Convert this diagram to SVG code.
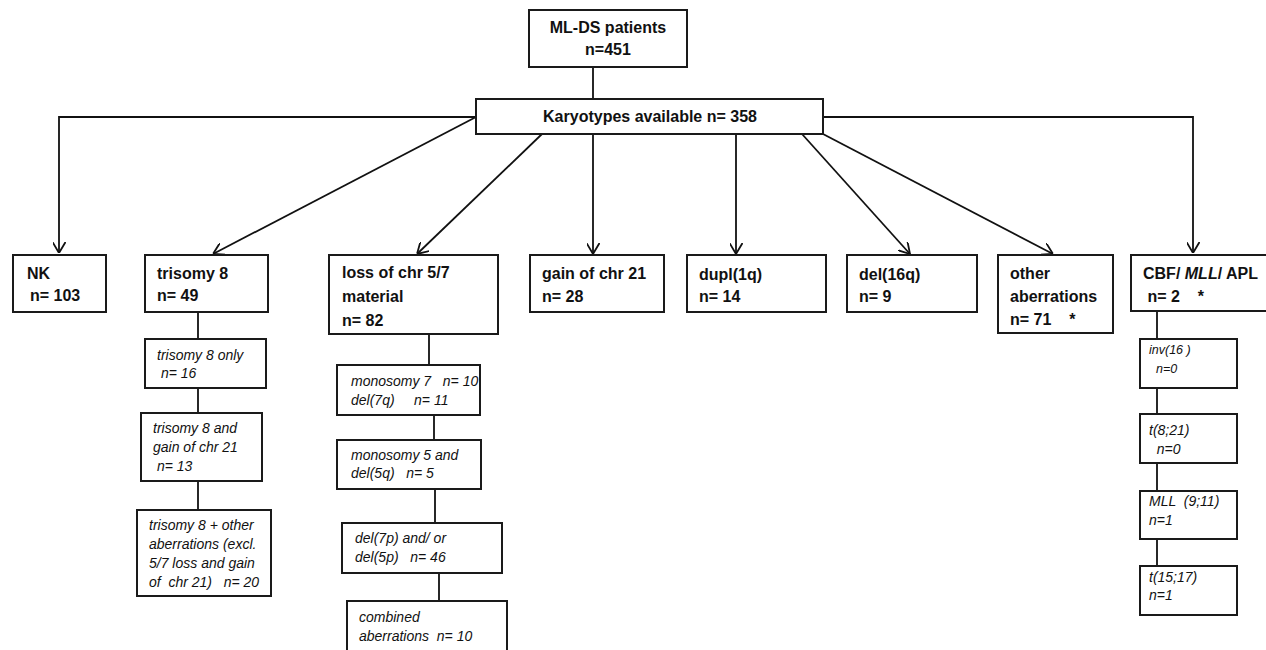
<svg xmlns="http://www.w3.org/2000/svg" width="1266" height="650" viewBox="0 0 1266 650">
<style>
.box{fill:#fff;stroke:#1a1a1a;stroke-width:2}
.ln{fill:none;stroke:#111;stroke-width:1.8}
.t{font-family:"Liberation Sans",Arial,sans-serif;font-size:16px;font-weight:bold;fill:#111;white-space:pre}
.i{font-family:"Liberation Sans",Arial,sans-serif;font-size:14px;font-style:italic;fill:#111;white-space:pre}
.s{font-size:12.5px}
</style>
<defs>
<marker id="arr" viewBox="0 0 11 13" refX="11" refY="6.5" markerWidth="11" markerHeight="13" markerUnits="userSpaceOnUse" orient="auto">
<path d="M0,0 L11,6.5 L0,13" fill="none" stroke="#111" stroke-width="1.8"/>
</marker>
</defs>

<g id="connectors">
<line class="ln" x1="593" y1="67" x2="593" y2="99"/>
<polyline class="ln" points="476,117 59,117 59,253" marker-end="url(#arr)"/>
<polyline class="ln" points="823,117 1193,117 1193,253" marker-end="url(#arr)"/>
<line class="ln" x1="476" y1="117" x2="213" y2="254" marker-end="url(#arr)"/>
<line class="ln" x1="542" y1="134" x2="417" y2="254" marker-end="url(#arr)"/>
<line class="ln" x1="593" y1="134" x2="593" y2="254" marker-end="url(#arr)"/>
<line class="ln" x1="736" y1="134" x2="736" y2="254" marker-end="url(#arr)"/>
<line class="ln" x1="802" y1="134" x2="910" y2="254" marker-end="url(#arr)"/>
<line class="ln" x1="823" y1="134" x2="1053" y2="254" marker-end="url(#arr)"/>
<line class="ln" x1="198" y1="312" x2="198" y2="339"/>
<line class="ln" x1="198" y1="388" x2="198" y2="413"/>
<line class="ln" x1="198" y1="481" x2="198" y2="510"/>
<line class="ln" x1="429" y1="334" x2="429" y2="365"/>
<line class="ln" x1="434" y1="415" x2="434" y2="440"/>
<line class="ln" x1="435" y1="489" x2="435" y2="523"/>
<line class="ln" x1="439" y1="573" x2="439" y2="601"/>
<line class="ln" x1="1157" y1="311" x2="1157" y2="339"/>
<line class="ln" x1="1157" y1="388" x2="1157" y2="414"/>
<line class="ln" x1="1157" y1="463" x2="1157" y2="491"/>
<line class="ln" x1="1157" y1="539" x2="1157" y2="566"/>
</g>

<g id="mlds">
<rect class="box" x="529" y="10" width="158" height="57"/>
<text class="t" x="608" y="33" text-anchor="middle">ML-DS patients</text>
<text class="t" x="608" y="55" text-anchor="middle">n=451</text>
</g>

<g id="karyotypes">
<rect class="box" x="476" y="99" width="347" height="35"/>
<text class="t" x="650" y="122" text-anchor="middle">Karyotypes available n= 358</text>
</g>

<g id="nk">
<rect class="box" x="13" y="255" width="93" height="57"/>
<text class="t" x="27" y="279">NK</text>
<text class="t" x="30" y="301">n= 103</text>
</g>

<g id="trisomy8">
<rect class="box" x="145" y="255" width="123" height="57"/>
<text class="t" x="157" y="279">trisomy 8</text>
<text class="t" x="157" y="301">n= 49</text>
</g>

<g id="loss57">
<rect class="box" x="329" y="255" width="169" height="79"/>
<text class="t" x="342" y="278">loss of chr 5/7</text>
<text class="t" x="342" y="302">material</text>
<text class="t" x="342" y="326">n= 82</text>
</g>

<g id="gain21">
<rect class="box" x="530" y="255" width="134" height="57"/>
<text class="t" x="542" y="279">gain of chr 21</text>
<text class="t" x="542" y="302">n= 28</text>
</g>

<g id="dupl1q">
<rect class="box" x="687" y="255" width="139" height="57"/>
<text class="t" x="699" y="280">dupl(1q)</text>
<text class="t" x="699" y="302">n= 14</text>
</g>

<g id="del16q">
<rect class="box" x="847" y="255" width="130" height="57"/>
<text class="t" x="859" y="280">del(16q)</text>
<text class="t" x="859" y="302">n= 9</text>
</g>

<g id="other">
<rect class="box" x="998" y="255" width="115" height="78"/>
<text class="t" x="1010" y="279">other</text>
<text class="t" x="1010" y="302">aberrations</text>
<text class="t" x="1010" y="325">n= 71    *</text>
</g>

<g id="cbf">
<rect class="box" x="1131" y="255" width="140" height="56"/>
<text class="t" x="1143" y="279">CBF/ <tspan font-style="italic">MLL</tspan>/ APL</text>
<text class="t" x="1143" y="302"> n= 2    *</text>
</g>

<g id="tri8only">
<rect class="box" x="145" y="339" width="121" height="49"/>
<text class="i" x="157" y="360">trisomy 8 only</text>
<text class="i" x="157" y="378"> n= 16</text>
</g>

<g id="tri8gain21">
<rect class="box" x="141" y="413" width="121" height="68"/>
<text class="i" x="153" y="433">trisomy 8 and</text>
<text class="i" x="153" y="452">gain of chr 21</text>
<text class="i" x="153" y="471"> n= 13</text>
</g>

<g id="tri8other">
<rect class="box" x="137" y="510" width="134" height="86"/>
<text class="i" x="149" y="530">trisomy 8 + other</text>
<text class="i" x="149" y="549">aberrations (excl.</text>
<text class="i" x="149" y="568">5/7 loss and gain</text>
<text class="i" x="149" y="587">of  chr 21)   n= 20</text>
</g>

<g id="mono7">
<rect class="box" x="337" y="365" width="143" height="50"/>
<text class="i" x="351" y="386">monosomy 7   n= 10</text>
<text class="i" x="351" y="405">del(7q)     n= 11</text>
</g>

<g id="mono5">
<rect class="box" x="337" y="440" width="144" height="49"/>
<text class="i" x="351" y="460">monosomy 5 and</text>
<text class="i" x="351" y="478">del(5q)   n= 5</text>
</g>

<g id="del7p">
<rect class="box" x="342" y="523" width="160" height="50"/>
<text class="i" x="355" y="543">del(7p) and/ or</text>
<text class="i" x="355" y="562">del(5p)   n= 46</text>
</g>

<g id="combined">
<rect class="box" x="347" y="601" width="160" height="60"/>
<text class="i" x="359" y="622">combined</text>
<text class="i" x="359" y="641">aberrations  n= 10</text>
</g>

<g id="inv16">
<rect class="box" x="1140" y="339" width="97" height="49"/>
<text class="i s" x="1149" y="354">inv(16 )</text>
<text class="i s" x="1149" y="373">  n=0</text>
</g>

<g id="t821">
<rect class="box" x="1140" y="414" width="97" height="49"/>
<text class="i" x="1149" y="435">t(8;21)</text>
<text class="i" x="1149" y="454">  n=0</text>
</g>

<g id="mll911">
<rect class="box" x="1140" y="491" width="97" height="48"/>
<text class="i" x="1149" y="506">MLL  (9;11)</text>
<text class="i" x="1149" y="525">n=1</text>
</g>

<g id="t1517">
<rect class="box" x="1140" y="566" width="97" height="49"/>
<text class="i" x="1149" y="582">t(15;17)</text>
<text class="i" x="1149" y="600">n=1</text>
</g>
</svg>
